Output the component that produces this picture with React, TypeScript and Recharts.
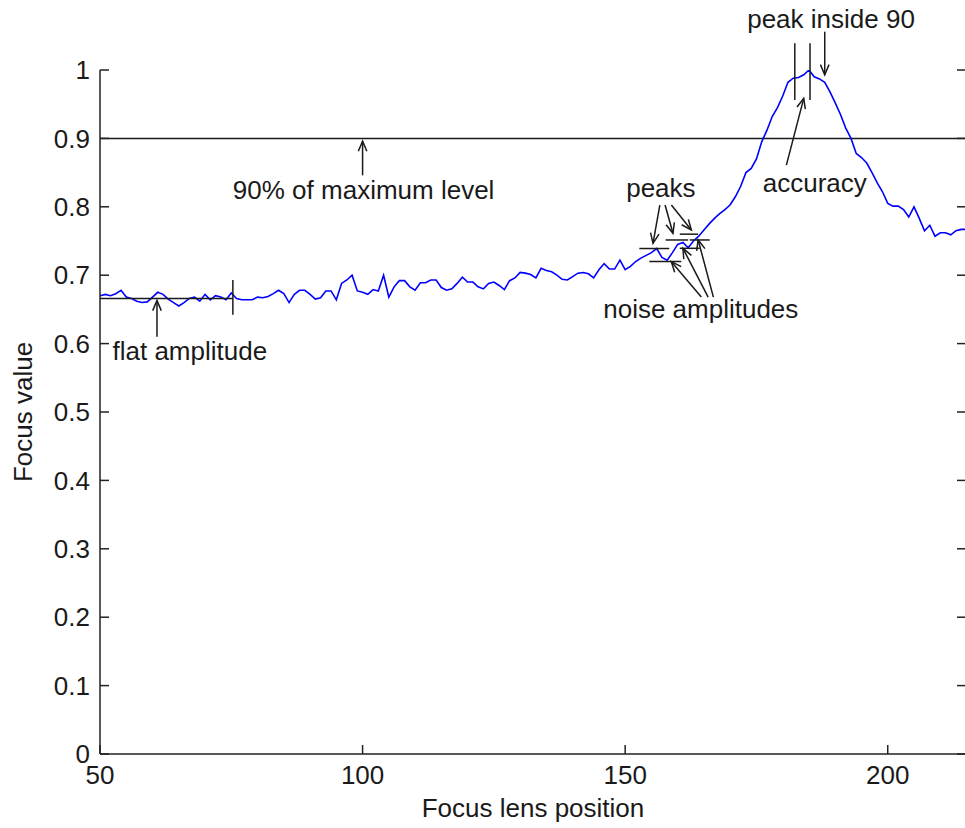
import React from "react";
import { LineChart, Line, XAxis, YAxis, ReferenceLine, ReferenceDot } from "recharts";

const FONT = '"Liberation Sans", Arial, Helvetica, sans-serif';
const INK = "#1a1a1a";
const FS = 26;

// focus value measured at each lens position, starting at 50, one step per entry
const lensStart = 50;
const focusValues = [
  0.670, 0.672, 0.670, 0.673, 0.678, 0.668, 0.666, 0.662, 0.660, 0.661, // 50
  0.668, 0.675, 0.672, 0.665, 0.660, 0.655, 0.660, 0.666, 0.668, 0.662, // 60
  0.672, 0.664, 0.670, 0.668, 0.664, 0.674, 0.666, 0.664, 0.664, 0.664, // 70
  0.668, 0.667, 0.669, 0.673, 0.678, 0.673, 0.660, 0.672, 0.678, 0.678, // 80
  0.672, 0.665, 0.667, 0.677, 0.677, 0.664, 0.688, 0.693, 0.700, 0.677, // 90
  0.675, 0.672, 0.679, 0.677, 0.700, 0.668, 0.683, 0.692, 0.692, 0.683, // 100
  0.678, 0.689, 0.689, 0.693, 0.693, 0.682, 0.678, 0.680, 0.688, 0.697, // 110
  0.690, 0.690, 0.683, 0.680, 0.688, 0.690, 0.685, 0.679, 0.692, 0.696, // 120
  0.704, 0.703, 0.701, 0.696, 0.710, 0.707, 0.705, 0.700, 0.694, 0.693, // 130
  0.698, 0.703, 0.704, 0.702, 0.696, 0.708, 0.717, 0.709, 0.709, 0.722, // 140
  0.708, 0.713, 0.720, 0.725, 0.729, 0.733, 0.739, 0.726, 0.722, 0.733, // 150
  0.745, 0.748, 0.740, 0.750, 0.757, 0.766, 0.775, 0.783, 0.790, 0.796, // 160
  0.803, 0.815, 0.830, 0.850, 0.856, 0.870, 0.895, 0.912, 0.932, 0.945, // 170
  0.962, 0.982, 0.988, 0.989, 0.993, 1.000, 0.990, 0.987, 0.982, 0.968, // 180
  0.952, 0.935, 0.915, 0.900, 0.878, 0.872, 0.864, 0.850, 0.835, 0.822, // 190
  0.805, 0.801, 0.801, 0.796, 0.785, 0.800, 0.783, 0.765, 0.773, 0.757, // 200
  0.762, 0.762, 0.759, 0.765, 0.767, 0.767, // 210
];

const xTicks = [50, 100, 150, 200];
const yTicks = [0, 0.1, 0.2, 0.3, 0.4, 0.5, 0.6, 0.7, 0.8, 0.9, 1];
const xDomain = [50, 214.9];
const yDomain = [0, 1];

const chartData = focusValues.map((v, i) => ({ pos: lensStart + i, focus: v }));

// annotation marks, in data units: [[x1, y1], [x2, y2]]
const plainSegments = [
  [[50, 0.666], [75.3, 0.666]], // flat amplitude level
  [[75.3, 0.693], [75.3, 0.642]],
  [[182.3, 1.039], [182.3, 0.956]], // accuracy bounds
  [[185.2, 1.039], [185.2, 0.956]],
  [[152.7, 0.739], [158.4, 0.739]], // peak / noise markers
  [[154.6, 0.72], [160.7, 0.72]],
  [[157.7, 0.7515], [162.0, 0.7515]],
  [[160.4, 0.76], [163.9, 0.76]],
  [[160.4, 0.7393], [164.2, 0.7393]],
  [[162.3, 0.7515], [166.1, 0.7515]],
];

// arrows: tail -> head
const arrowSegments = [
  [[100, 0.846], [100, 0.896]],
  [[60.85, 0.61], [60.85, 0.663]],
  [[156.6, 0.8026], [155.3, 0.7466]],
  [[157.6, 0.8026], [159.1, 0.7613]],
  [[158.8, 0.8026], [162.6, 0.7661]],
  [[164.5, 0.668], [158.8, 0.7198]],
  [[165.8, 0.668], [161.0, 0.7393]],
  [[166.8, 0.668], [163.9, 0.7515]],
  [[188.0, 1.056], [188.0, 0.993]],
  [[180.7, 0.861], [184.0, 0.9586]],
];

const notes = [
  { text: "90% of maximum level", x: 100.2, y: 0.811 },
  { text: "flat amplitude", x: 67.1, y: 0.576 },
  { text: "peaks", x: 156.8, y: 0.814 },
  { text: "noise amplitudes", x: 164.4, y: 0.637 },
  { text: "accuracy", x: 186.1, y: 0.822 },
  { text: "peak inside 90", x: 189.2, y: 1.061 },
];

const ArrowShape = (props: any) => {
  const { x1, y1, x2, y2 } = props;
  const ang = Math.atan2(y2 - y1, x2 - x1);
  const len = 11;
  const spread = 0.4;
  const a = [x2 - len * Math.cos(ang - spread), y2 - len * Math.sin(ang - spread)];
  const b = [x2 - len * Math.cos(ang + spread), y2 - len * Math.sin(ang + spread)];
  return (
    <g>
      <line x1={x1} y1={y1} x2={x2} y2={y2} stroke={INK} strokeWidth={1.5} />
      <polyline
        points={`${a[0]},${a[1]} ${x2},${y2} ${b[0]},${b[1]}`}
        fill="none"
        stroke={INK}
        strokeWidth={1.5}
      />
    </g>
  );
};

const NoteText = (text: string) => (props: any) => (
  <text
    x={props.cx}
    y={props.cy}
    textAnchor="middle"
    fill={INK}
    fontSize={FS}
    fontFamily={FONT}
  >
    {text}
  </text>
);

const YTitle = (props: any) => {
  const { viewBox } = props;
  const cx = viewBox.x + 23;
  const cy = viewBox.y + viewBox.height / 2;
  return (
    <text
      x={cx}
      y={cy}
      transform={`rotate(-90 ${cx} ${cy})`}
      textAnchor="middle"
      dominantBaseline="central"
      fill={INK}
      fontSize={FS}
      fontFamily={FONT}
    >
      Focus value
    </text>
  );
};

const tickStyle = { fill: INK, fontSize: FS, fontFamily: FONT };
const axisStroke = { stroke: "#222", strokeWidth: 1.5 };

export default function App() {
  return (
    <div
      style={{
        position: "absolute",
        left: 0,
        top: 0,
        width: 965,
        height: 828,
        overflow: "hidden",
        background: "#fff",
      }}
    >
      <LineChart
        width={970}
        height={828}
        data={chartData}
        margin={{ top: 70, right: 0, bottom: 0, left: 0 }}
      >
        <XAxis
          dataKey="pos"
          type="number"
          domain={xDomain}
          ticks={xTicks}
          allowDataOverflow
          interval={0}
          height={74}
          tickSize={-9}
          tickMargin={21}
          tick={tickStyle}
          axisLine={axisStroke}
          tickLine={axisStroke}
          label={{
            value: "Focus lens position",
            position: "insideBottom",
            offset: 11,
            fill: INK,
            fontSize: FS,
            fontFamily: FONT,
          }}
        />
        <XAxis
          xAxisId="t"
          orientation="top"
          type="number"
          domain={xDomain}
          ticks={xTicks}
          allowDataOverflow
          interval={0}
          height={0}
          tickSize={-9}
          tickFormatter={() => ""}
          axisLine={axisStroke}
          tickLine={axisStroke}
        />
        <YAxis
          type="number"
          domain={yDomain}
          ticks={yTicks}
          allowDataOverflow
          interval={0}
          width={100}
          tickSize={-9}
          tickMargin={19}
          tick={tickStyle}
          axisLine={axisStroke}
          tickLine={axisStroke}
          label={YTitle}
        />
        <YAxis
          yAxisId="r"
          orientation="right"
          type="number"
          domain={yDomain}
          ticks={yTicks}
          allowDataOverflow
          interval={0}
          width={4}
          tickSize={-9}
          tickFormatter={() => ""}
          axisLine={axisStroke}
          tickLine={axisStroke}
        />
        <ReferenceLine y={0.9} stroke={INK} strokeWidth={1.5} />
        <Line
          dataKey="focus"
          stroke="#0000ff"
          strokeWidth={1.6}
          dot={false}
          isAnimationActive={false}
        />
        {plainSegments.map((s, i) => (
          <ReferenceLine
            key={`seg-${i}`}
            segment={[
              { x: s[0][0], y: s[0][1] },
              { x: s[1][0], y: s[1][1] },
            ]}
            stroke={INK}
            strokeWidth={1.5}
            ifOverflow="visible"
          />
        ))}
        {arrowSegments.map((s, i) => (
          <ReferenceLine
            key={`arr-${i}`}
            segment={[
              { x: s[0][0], y: s[0][1] },
              { x: s[1][0], y: s[1][1] },
            ]}
            shape={ArrowShape}
            ifOverflow="visible"
          />
        ))}
        {notes.map((n) => (
          <ReferenceDot
            key={n.text}
            x={n.x}
            y={n.y}
            r={0}
            ifOverflow="visible"
            shape={NoteText(n.text)}
          />
        ))}
      </LineChart>
    </div>
  );
}
